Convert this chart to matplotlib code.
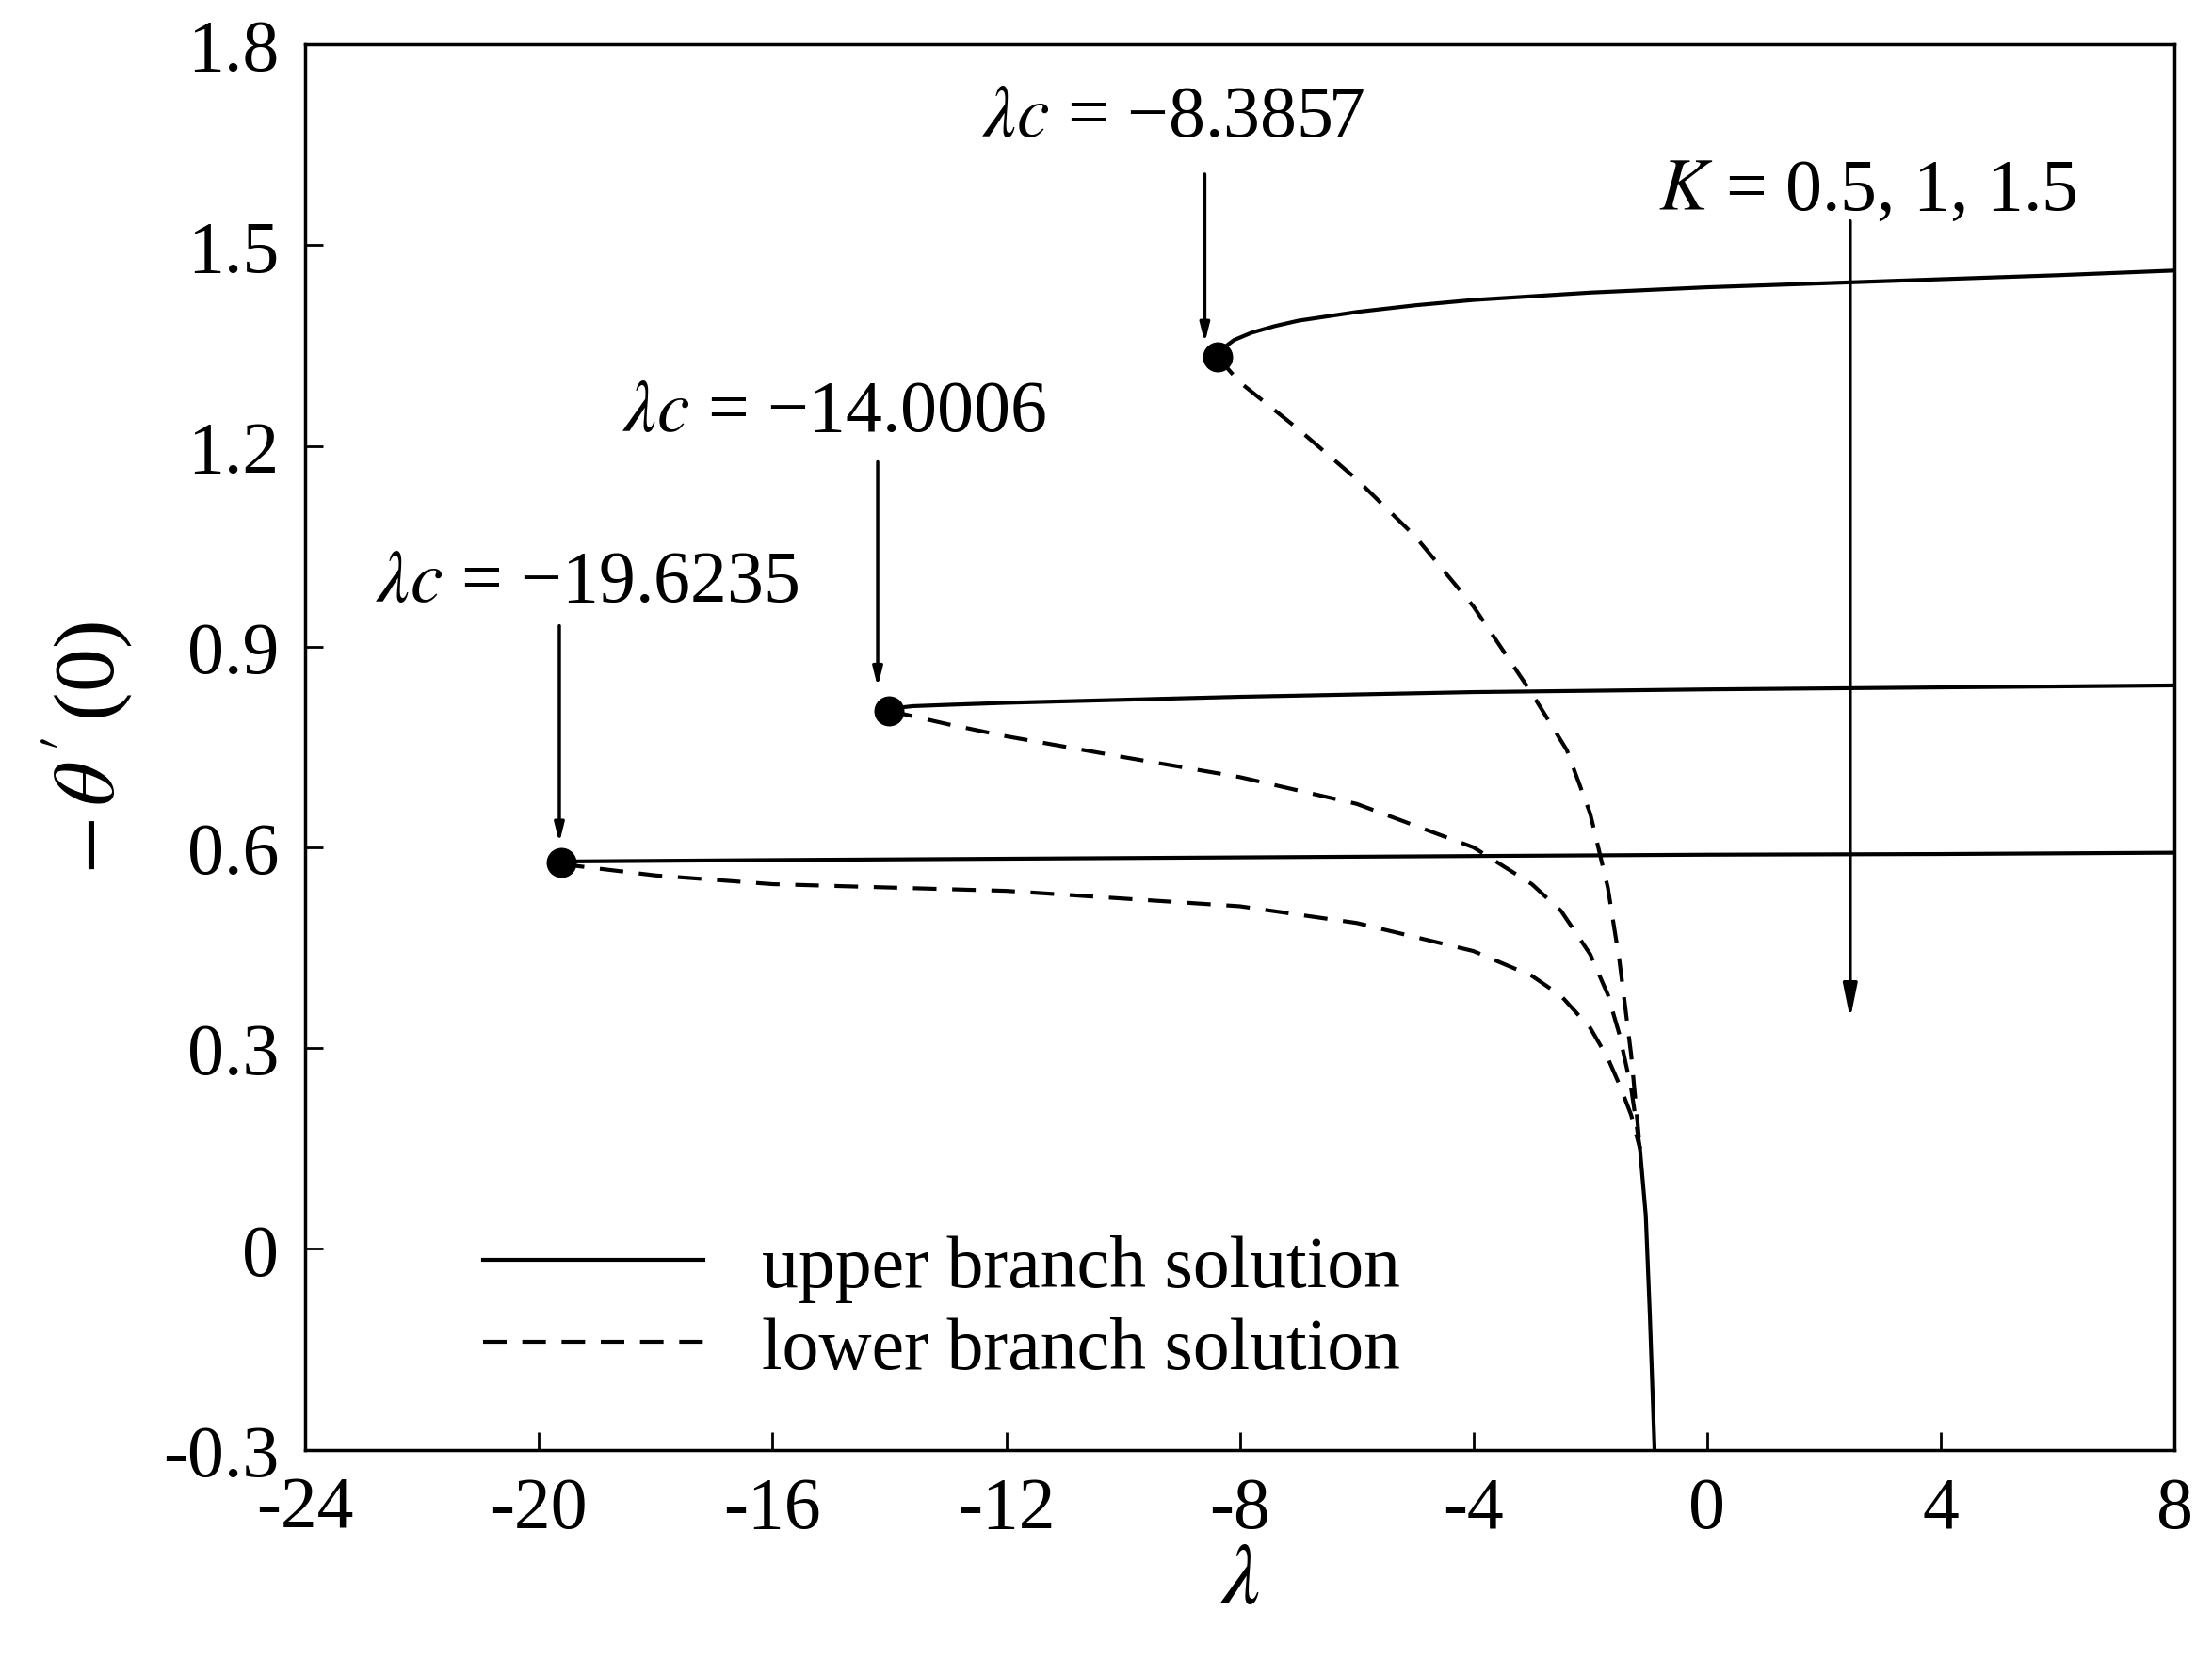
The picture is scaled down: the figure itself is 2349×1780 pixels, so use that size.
import matplotlib.pyplot as plt

plt.rcParams['font.family'] = ['Liberation Serif', 'DejaVu Serif']
plt.rcParams['mathtext.fontset'] = 'stix'

# critical points (lambda_c, -theta'(0))
lam_c = [-8.3857, -14.0006, -19.6235]
theta_c = [1.333, 0.804, 0.578]

# upper branches
up1_x = [-8.3857, -8.3, -8.1, -7.8, -7.4, -7, -6, -5, -4, -2, 0, 2, 4, 6, 8]
up1_y = [1.333, 1.345, 1.358, 1.369, 1.379, 1.387, 1.400, 1.410, 1.418, 1.429, 1.437, 1.443, 1.449, 1.455, 1.462]
up2_x = [-14.0006, -13.9, -13.6, -13, -12, -8, -4, 0, 4, 8]
up2_y = [0.804, 0.808, 0.811, 0.813, 0.816, 0.825, 0.832, 0.836, 0.839, 0.842]
up3_x = [-19.6235, -19.4, -16, -12, -8, -4, 0, 4, 8]
up3_y = [0.578, 0.579, 0.581, 0.583, 0.585, 0.587, 0.589, 0.590, 0.592]

# lower branches
lo1_x = [-8.3857, -8, -7, -6, -5, -4, -3, -2.4, -2, -1.7, -1.5, -1.3, -1.15]
lo1_y = [1.333, 1.295, 1.225, 1.150, 1.065, 0.960, 0.830, 0.745, 0.650, 0.540, 0.430, 0.290, 0.150]
lo2_x = [-14.0006, -13, -12, -10, -8, -6, -4, -3, -2.5, -2, -1.7, -1.5, -1.3, -1.15]
lo2_y = [0.804, 0.784, 0.766, 0.735, 0.705, 0.665, 0.600, 0.545, 0.505, 0.440, 0.380, 0.320, 0.240, 0.150]
lo3_x = [-19.6235, -18, -16, -12, -8, -6, -4, -3, -2.5, -2, -1.7, -1.5, -1.3, -1.15]
lo3_y = [0.575, 0.558, 0.545, 0.535, 0.512, 0.487, 0.445, 0.408, 0.378, 0.330, 0.285, 0.245, 0.200, 0.150]
tail_x = [-1.15, -1.05, -0.98, -0.9]
tail_y = [0.150, 0.05, -0.10, -0.30]

xticks = [-24, -20, -16, -12, -8, -4, 0, 4, 8]
yticks = [-0.3, 0, 0.3, 0.6, 0.9, 1.2, 1.5, 1.8]

fig = plt.figure(figsize=(23.49, 17.81), dpi=100)
ax = fig.add_axes([0.138, 0.135, 0.845, 0.838])

for x, y in [(up1_x, up1_y), (up2_x, up2_y), (up3_x, up3_y)]:
    ax.plot(x, y, 'k-', lw=3)
for x, y in [(lo1_x, lo1_y), (lo2_x, lo2_y), (lo3_x, lo3_y)]:
    ax.plot(x, y, 'k--', lw=3, dashes=(6, 4))
ax.plot(tail_x, tail_y, 'k-', lw=3)
ax.plot(lam_c, theta_c, 'ko', ms=22)

ax.plot([], [], 'k-', lw=3, label='upper branch solution')
ax.plot([], [], 'k--', lw=3, dashes=(6, 4), label='lower branch solution')
ax.legend(loc='lower left', bbox_to_anchor=(0.06, 0.0), frameon=False,
          fontsize=56, handlelength=3.0, labelspacing=0.2)

arrow = dict(arrowstyle='-|>,head_length=1.2,head_width=0.3', color='k', lw=2.5)
labels = ['$\\lambda c$ = \u22128.3857', '$\\lambda c$ = \u221214.0006', '$\\lambda c$ = \u221219.6235']
text_xy = [(-9.14, 1.69), (-14.94, 1.25), (-19.17, 0.995)]
arrow_from = [(-8.6, 1.61), (-14.2, 1.18), (-19.65, 0.935)]
arrow_to = [(-8.6, 1.35), (-14.2, 0.836), (-19.65, 0.603)]
for lab, t, a0, a1 in zip(labels, text_xy, arrow_from, arrow_to):
    ax.text(t[0], t[1], lab, fontsize=56, ha='center', va='center')
    ax.annotate('', xy=a1, xytext=a0, arrowprops=arrow)

ax.text(2.74, 1.58, '$K$ = 0.5, 1, 1.5', fontsize=56, ha='center', va='center')
ax.annotate('', xy=(2.45, 0.34), xytext=(2.45, 1.54),
            arrowprops=dict(arrowstyle='-|>,head_length=2.2,head_width=0.45',
                            color='k', lw=2.5))

ax.set_xlim(-24, 8)
ax.set_ylim(-0.3, 1.8)
ax.set_xticks(xticks)
ax.set_xticklabels([str(v) for v in xticks])
ax.set_yticks(yticks)
ax.set_yticklabels(['-0.3', '0', '0.3', '0.6', '0.9', '1.2', '1.5', '1.8'])
ax.tick_params(direction='in', length=14, width=2, labelsize=56, pad=20)
for s in ax.spines.values():
    s.set_linewidth(2.5)
ax.set_xlabel('$\\lambda$', fontsize=66, labelpad=0)
ax.set_ylabel("$-\\,\\theta\\,'\\,$(0)", fontsize=66, labelpad=20)

fig.savefig('out.png', dpi=100)
